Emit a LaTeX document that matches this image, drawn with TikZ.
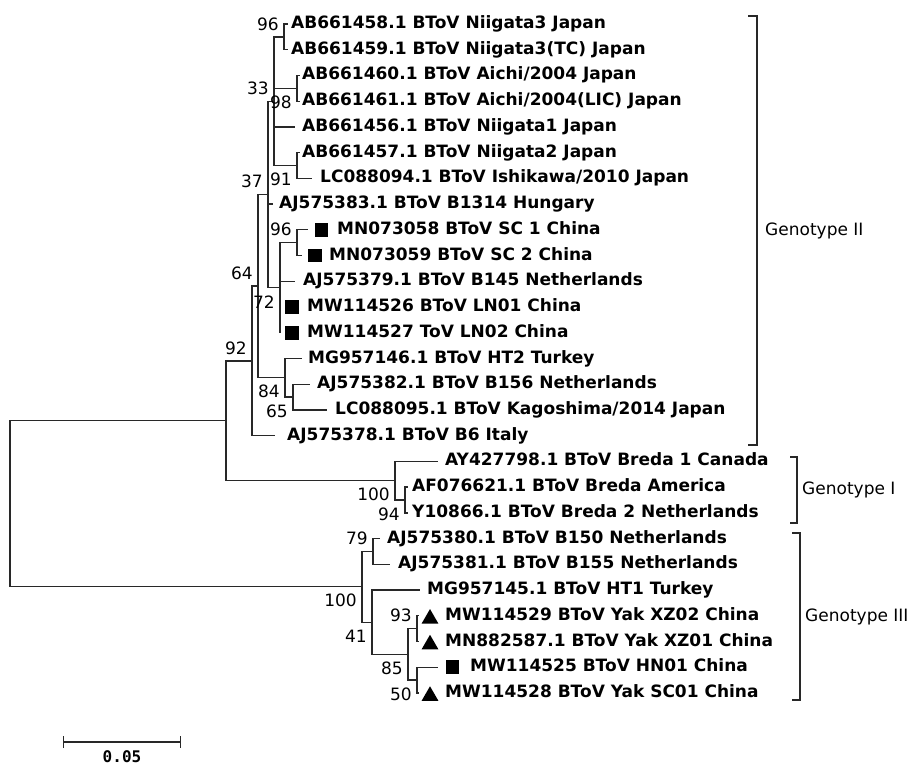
\documentclass[tikz,border=0pt]{standalone}
\usepackage{fontspec}
\setmainfont{DejaVu Sans}
\newfontfamily\scalebarfont{DejaVu Sans Mono}
\usetikzlibrary{arrows.meta,shapes.geometric}
\definecolor{treegray}{RGB}{40,40,40}
\tikzset{
  tline/.style ={line width=1.3pt, treegray},
  tleaf/.style ={anchor=west, inner sep=0pt, text height=13pt, text depth=4pt,
                 font=\fontsize{17}{20}\selectfont\bfseries},
  tboot/.style ={anchor=east, inner sep=0pt, font=\fontsize{17}{20}\selectfont},
  tbup/.style  ={tboot, xshift=-5pt, yshift=13pt},
  tbdown/.style={tboot, xshift=-5pt, yshift=-14pt},
  tsq/.style   ={rectangle, fill=black, minimum size=13.5pt, inner sep=0pt},
  ttri/.style  ={regular polygon, regular polygon sides=3, fill=black,
                 minimum size=19.5pt, inner sep=0pt, yshift=-3pt},
  tclade/.style={line width=1.3pt, treegray},
  tgeno/.style ={anchor=west, inner sep=0pt, font=\fontsize{17}{20}\selectfont},
}

\begin{document}
\begin{tikzpicture}[x=1pt, y=-1pt]
\useasboundingbox (0,0) rectangle (915,765);
% internal nodes
\coordinate (root) at (10,503.8);
\coordinate (nF)   at (226,420.8);
\coordinate (nE)   at (252,360.9);
\coordinate (nG)   at (258,286.1);
\coordinate (nB)   at (268,194.5);
\coordinate (nA)   at (274,101.2);
\coordinate (n12)  at (284,36.9);
\coordinate (n34)  at (297,88.4);
\coordinate (n67)  at (297,165.5);
\coordinate (nC)   at (280,287.7);
\coordinate (n910) at (297,242.7);
\coordinate (nH)   at (285,377.8);
\coordinate (nI)   at (293,397.1);
\coordinate (nJ)   at (395,480.7);
\coordinate (nK)   at (405,500.0);
\coordinate (nL)   at (362,586.8);
\coordinate (nM)   at (373,551.5);
\coordinate (nN)   at (372,622.2);
\coordinate (nO)   at (408,654.4);
\coordinate (nP)   at (417,628.6);
\coordinate (nQ)   at (417,680.1);
% leaves
\coordinate (t1)  at (288,24);    \node[tleaf] (l1)  at (291,24)    {AB661458.1 BToV Niigata3 Japan};
\coordinate (t2)  at (288,49.7);  \node[tleaf] (l2)  at (291,49.7)  {AB661459.1 BToV Niigata3(TC) Japan};
\coordinate (t3)  at (300,75.5);  \node[tleaf] (l3)  at (302,75.5)  {AB661460.1 BToV Aichi/2004 Japan};
\coordinate (t4)  at (300,101.2); \node[tleaf] (l4)  at (302,101.2) {AB661461.1 BToV Aichi/2004(LIC) Japan};
\coordinate (t5)  at (295,126.9); \node[tleaf] (l5)  at (302,126.9) {AB661456.1 BToV Niigata1 Japan};
\coordinate (t6)  at (300,152.7); \node[tleaf] (l6)  at (302,152.7) {AB661457.1 BToV Niigata2 Japan};
\coordinate (t7)  at (312,178.4); \node[tleaf] (l7)  at (320,178.4) {LC088094.1 BToV Ishikawa/2010 Japan};
\coordinate (t8)  at (273,204.1); \node[tleaf] (l8)  at (279,204.1) {AJ575383.1 BToV B1314 Hungary};
\coordinate (t9)  at (308,229.8); \node[tleaf] (l9)  at (337,229.8) {MN073058 BToV SC 1 China};
\coordinate (t10) at (302,255.6); \node[tleaf] (l10) at (329,255.6) {MN073059 BToV SC 2 China};
\coordinate (t11) at (295,281.3); \node[tleaf] (l11) at (303,281.3) {AJ575379.1 BToV B145 Netherlands};
\coordinate (t12) at (280,307.0); \node[tleaf] (l12) at (307,307.0) {MW114526 BToV LN01 China};
\coordinate (t13) at (280,332.8); \node[tleaf] (l13) at (307,332.8) {MW114527 ToV LN02 China};
\coordinate (t14) at (302,358.5); \node[tleaf] (l14) at (308,358.5) {MG957146.1 BToV HT2 Turkey};
\coordinate (t15) at (310,384.2); \node[tleaf] (l15) at (317,384.2) {AJ575382.1 BToV B156 Netherlands};
\coordinate (t16) at (327,409.9); \node[tleaf] (l16) at (335,409.9) {LC088095.1 BToV Kagoshima/2014 Japan};
\coordinate (t17) at (275,435.7); \node[tleaf] (l17) at (287,435.7) {AJ575378.1 BToV B6 Italy};
\coordinate (t18) at (438,461.4); \node[tleaf] (l18) at (445,461.4) {AY427798.1 BToV Breda 1 Canada};
\coordinate (t19) at (408,487.1); \node[tleaf] (l19) at (412,487.1) {AF076621.1 BToV Breda America};
\coordinate (t20) at (408,512.9); \node[tleaf] (l20) at (412,512.9) {Y10866.1 BToV Breda 2 Netherlands};
\coordinate (t21) at (380,538.6); \node[tleaf] (l21) at (387,538.6) {AJ575380.1 BToV B150 Netherlands};
\coordinate (t22) at (390,564.3); \node[tleaf] (l22) at (398,564.3) {AJ575381.1 BToV B155 Netherlands};
\coordinate (t23) at (420,590.0); \node[tleaf] (l23) at (427,590.0) {MG957145.1 BToV HT1 Turkey};
\coordinate (t24) at (419,615.8); \node[tleaf] (l24) at (445,615.8) {MW114529 BToV Yak XZ02 China};
\coordinate (t25) at (419,641.5); \node[tleaf] (l25) at (445,641.5) {MN882587.1 BToV Yak XZ01 China};
\coordinate (t26) at (438,667.2); \node[tleaf] (l26) at (470,667.2) {MW114525 BToV HN01 China};
\coordinate (t27) at (419,693.0); \node[tleaf] (l27) at (445,693.0) {MW114528 BToV Yak SC01 China};
% markers
\node[tsq]  (m9)  at (321.5,229.8) {};
\node[tsq]  (m10) at (315,255.6) {};
\node[tsq]  (m12) at (292,307.0) {};
\node[tsq]  (m13) at (292,332.8) {};
\node[ttri] (m24) at (430,615.8) {};
\node[ttri] (m25) at (430,641.5) {};
\node[tsq]  (m26) at (452.5,667.2) {};
\node[ttri] (m27) at (430,693.0) {};
% branches
\draw[tline] (root) |- (nF);  \draw[tline] (root) |- (nL);
\draw[tline] (nF) |- (nE);    \draw[tline] (nF) |- (nJ);
\draw[tline] (nE) |- (nG);    \draw[tline] (nE) |- (t17);
\draw[tline] (nG) |- (nB);    \draw[tline] (nG) |- (nH);
\draw[tline] (nB) |- (nA);    \draw[tline] (nB) |- (t8);   \draw[tline] (nB) |- (nC);
\draw[tline] (nA) |- (n12);   \draw[tline] (nA) |- (n34);  \draw[tline] (nA) |- (t5);  \draw[tline] (nA) |- (n67);
\draw[tline] (n12) |- (t1);   \draw[tline] (n12) |- (t2);
\draw[tline] (n34) |- (t3);   \draw[tline] (n34) |- (t4);
\draw[tline] (n67) |- (t6);   \draw[tline] (n67) |- (t7);
\draw[tline] (nC) |- (n910);  \draw[tline] (nC) |- (t11);  \draw[tline] (nC) |- (t12); \draw[tline] (nC) |- (t13);
\draw[tline] (n910) |- (t9);  \draw[tline] (n910) |- (t10);
\draw[tline] (nH) |- (t14);   \draw[tline] (nH) |- (nI);
\draw[tline] (nI) |- (t15);   \draw[tline] (nI) |- (t16);
\draw[tline] (nJ) |- (t18);   \draw[tline] (nJ) |- (nK);
\draw[tline] (nK) |- (t19);   \draw[tline] (nK) |- (t20);
\draw[tline] (nL) |- (nM);    \draw[tline] (nL) |- (nN);
\draw[tline] (nM) |- (t21);   \draw[tline] (nM) |- (t22);
\draw[tline] (nN) |- (t23);   \draw[tline] (nN) |- (nO);
\draw[tline] (nO) |- (nP);    \draw[tline] (nO) |- (nQ);
\draw[tline] (nP) |- (t24);   \draw[tline] (nP) |- (t25);
\draw[tline] (nQ) |- (t26);   \draw[tline] (nQ) |- (t27);
% bootstrap values
\node[tbup]   (b12)  at (n12)  {96};
\node[tbup]   (bA)   at (nA)   {33};
\node[tbdown] (b34)  at (n34)  {98};
\node[tbdown] (b67)  at (n67)  {91};
\node[tbup]   (bB)   at (nB)   {37};
\node[tbup]   (b910) at (n910) {96};
\node[tbdown] (bC)   at (nC)   {72};
\node[tbup]   (bG)   at (nG)   {64};
\node[tbdown] (bH)   at (nH)   {84};
\node[tbdown] (bI)   at (nI)   {65};
\node[tbup]   (bE)   at (nE)   {92};
\node[tbdown] (bJ)   at (nJ)   {100};
\node[tbdown] (bK)   at (nK)   {94};
\node[tbup]   (bM)   at (nM)   {79};
\node[tbdown] (bL)   at (nL)   {100};
\node[tbdown] (bN)   at (nN)   {41};
\node[tbup]   (bP)   at (nP)   {93};
\node[tbdown] (bO)   at (nO)   {85};
\node[tbdown] (bQ)   at (nQ)   {50};
% genotype brackets
\draw[tclade] (748,16) -| (757,445) -- (748,445);
\node[tgeno] (g2) at (765,230.5) {Genotype II};
\draw[tclade] (790,457) -| (797,523) -- (790,523);
\node[tgeno] (g1) at (802,490) {Genotype I};
\draw[tclade] (792,533) -| (800,700) -- (792,700);
\node[tgeno] (g3) at (805,616.5) {Genotype III};
% scale bar
\coordinate (sb1) at (63,742);
\coordinate (sb2) at (181,742);
\draw[tline, {Bar[width=12pt]}-{Bar[width=12pt]}] (sb1) -- (sb2);
\node[font=\scalebarfont\bfseries\fontsize{16}{19}\selectfont, inner sep=0pt] (sbl) at (122,757) {0.05};
\end{tikzpicture}
\end{document}
